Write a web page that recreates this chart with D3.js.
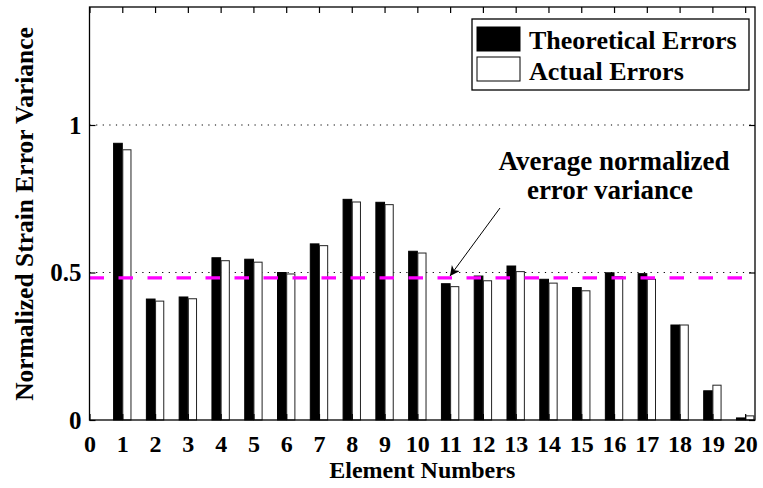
<!DOCTYPE html>
<html>
<head>
<meta charset="utf-8">
<script src="https://cdn.jsdelivr.net/npm/d3@7"></script>
<style>
  html, body { margin: 0; padding: 0; background: #fff; }
  svg { display: block; }
  text { font-family: "Liberation Serif", "Times New Roman", serif; font-weight: bold; fill: #000; }
</style>
</head>
<body>
<svg id="chart" width="763" height="488"></svg>
<script>
// Element numbers (x categories)
const elements = d3.range(1, 21);
// Normalized strain error variance per element
const theoreticalErrors = [0.938, 0.410, 0.417, 0.550, 0.545, 0.500, 0.597, 0.748, 0.738, 0.572,
                           0.462, 0.488, 0.522, 0.477, 0.449, 0.499, 0.496, 0.322, 0.099, 0.007];
const actualErrors      = [0.916, 0.403, 0.411, 0.540, 0.535, 0.495, 0.591, 0.739, 0.730, 0.566,
                           0.452, 0.472, 0.503, 0.464, 0.438, 0.486, 0.477, 0.322, 0.118, 0.014];
// Average normalized error variance (reference line)
const averageVariance = 0.482;
const xTicks = d3.range(0, 21);
const yTicks = [0, 0.5, 1];
const yTickLabels = ["0", "0.5", "1"];
const gridValues = [0.5, 1];
const seriesNames = ["Theoretical Errors", "Actual Errors"];

const svg = d3.select("#chart");
const L = 89.5, R = 755, T = 7, B = 420;

const x = d3.scaleLinear().domain([0, 20.3]).range([L, R]);
const y = d3.scaleLinear().domain([0, 1.4]).range([B, T]);
const barW = 0.265;

// dotted grid lines
svg.append("g").selectAll("line").data(gridValues).join("line")
  .attr("x1", L).attr("x2", R)
  .attr("y1", d => y(d)).attr("y2", d => y(d))
  .attr("stroke", "#000").attr("stroke-width", 1.2)
  .attr("stroke-dasharray", "1.2,5.4");

// bars: theoretical (black) left of the element, actual (white) right
const bars = svg.append("g");
bars.selectAll("rect.theo").data(elements).join("rect")
  .attr("class", "theo")
  .attr("x", d => x(d - barW))
  .attr("width", d => x(d) - x(d - barW))
  .attr("y", (d, i) => y(theoreticalErrors[i]))
  .attr("height", (d, i) => y(0) - y(theoreticalErrors[i]))
  .attr("fill", "#000").attr("stroke", "#000").attr("stroke-width", 1);
bars.selectAll("rect.act").data(elements).join("rect")
  .attr("class", "act")
  .attr("x", d => x(d) + 0.5)
  .attr("width", d => x(d + barW) - x(d) - 0.5)
  .attr("y", (d, i) => y(actualErrors[i]))
  .attr("height", (d, i) => y(0) - y(actualErrors[i]))
  .attr("fill", "#fff").attr("stroke", "#222").attr("stroke-width", 1);

// average line
svg.append("line")
  .attr("x1", L).attr("x2", R)
  .attr("y1", y(averageVariance)).attr("y2", y(averageVariance))
  .attr("stroke", "#ff00ff").attr("stroke-width", 3.2)
  .attr("stroke-dasharray", "14.5,14.5");

// axes frame
svg.append("rect").attr("x", L).attr("y", T).attr("width", R - L).attr("height", B - T)
  .attr("fill", "none").attr("stroke", "#000").attr("stroke-width", 1.3);

// axes with inward ticks
const gx = svg.append("g").attr("transform", `translate(0,${B})`)
  .call(d3.axisBottom(x).tickValues(xTicks).tickSizeInner(-6).tickSizeOuter(0).tickPadding(15));
gx.select(".domain").remove();
gx.selectAll("text").style("font-size", "24px");
const gxt = svg.append("g").attr("transform", `translate(0,${T})`)
  .call(d3.axisTop(x).tickValues(xTicks).tickSizeInner(-6).tickSizeOuter(0).tickFormat(""));
gxt.select(".domain").remove();

const gy = svg.append("g").attr("transform", `translate(${L},0)`)
  .call(d3.axisLeft(y).tickValues(yTicks).tickSizeInner(-6).tickSizeOuter(0).tickPadding(8)
    .tickFormat((d, i) => yTickLabels[i]));
gy.select(".domain").remove();
gy.selectAll("text").style("font-size", "25px");
const gyr = svg.append("g").attr("transform", `translate(${R},0)`)
  .call(d3.axisRight(y).tickValues(yTicks).tickSizeInner(-6).tickSizeOuter(0).tickFormat(""));
gyr.select(".domain").remove();
svg.selectAll(".tick line").attr("stroke", "#000").attr("stroke-width", 1.2);

// axis titles
svg.append("text").attr("x", (L + R) / 2).attr("y", 478)
  .attr("text-anchor", "middle").style("font-size", "24px").text("Element Numbers");
svg.append("text").attr("transform", `translate(33,214) rotate(-90)`)
  .attr("text-anchor", "middle").style("font-size", "25.5px").text("Normalized Strain Error Variance");

// legend
const lg = svg.append("g");
lg.append("rect").attr("x", 472).attr("y", 19).attr("width", 277).attr("height", 71)
  .attr("fill", "#fff").attr("stroke", "#000").attr("stroke-width", 1.3);
const swatchFill = ["#000", "#fff"];
seriesNames.forEach((name, i) => {
  lg.append("rect").attr("x", 477).attr("y", 27 + i * 30).attr("width", 43).attr("height", 24)
    .attr("fill", swatchFill[i]).attr("stroke", "#000").attr("stroke-width", 1);
  lg.append("text").attr("x", 529).attr("y", 49 + i * 31).style("font-size", "26px").text(name);
});

// annotation
svg.append("text").attr("x", 614).attr("y", 170).attr("text-anchor", "middle")
  .style("font-size", "27px").text("Average normalized");
svg.append("text").attr("x", 610).attr("y", 199).attr("text-anchor", "middle")
  .style("font-size", "27px").text("error variance");
svg.append("defs").append("marker").attr("id", "arrow")
  .attr("viewBox", "0 0 10 10").attr("refX", 10).attr("refY", 5)
  .attr("markerWidth", 14).attr("markerHeight", 10).attr("markerUnits", "userSpaceOnUse")
  .attr("orient", "auto")
  .append("path").attr("d", "M0,0 L10,5 L0,10 L3,5 Z").attr("fill", "#000");
svg.append("line").attr("x1", 500).attr("y1", 208).attr("x2", 450).attr("y2", 276)
  .attr("stroke", "#000").attr("stroke-width", 1).attr("marker-end", "url(#arrow)");
</script>
</body>
</html>
